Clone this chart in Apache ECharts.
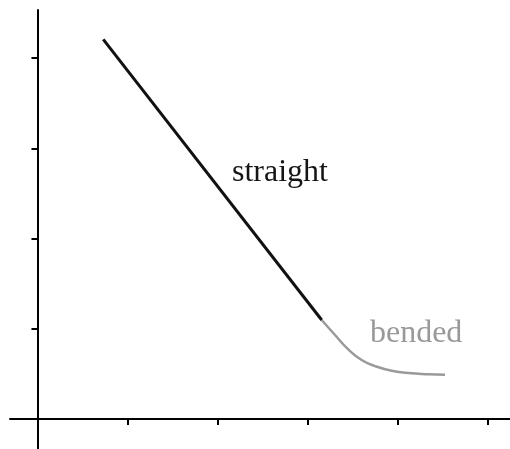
<!DOCTYPE html>
<html>
<head>
    <meta charset="utf-8">
    <script src="https://cdn.jsdelivr.net/npm/echarts@6/dist/echarts.min.js"></script>
    <style>
        body{
            margin:0;
            padding:0;
            background:#fff;
        }
    </style>
</head>
<body>
<div id="main" style="width:510px;height:449px;"></div>
<script type="text/javascript">
// values (unitless axes, ticks at whole numbers)
let xTicks = [1, 2, 3, 4, 5];
let yTicks = [1, 2, 3, 4];
let straightData = [[0.731, 4.207], [3.158, 1.097]];
let bendedData = [
  [3.158, 1.097], [3.306, 0.931], [3.453, 0.772], [3.602, 0.654],
  [3.750, 0.587], [3.936, 0.535], [4.158, 0.507], [4.342, 0.495], [4.528, 0.491]
];
// text labels: [text, x, y (middle of text), colour]
let labels = [
  ['straight', 2.161, 2.73, '#151515'],
  ['bended', 3.694, 0.945, '#999999']
];

var myChart = echarts.init(document.getElementById('main'));

option = {
  animation: false,
  backgroundColor: '#fff',
  grid: {
    left: 10,
    right: 0,
    top: 10,
    bottom: 0
  },
  xAxis: {
    type: 'value',
    min: -0.305,
    max: 5.25,
    splitLine: { show: false },
    axisLabel: { show: false },
    axisLine: {
      onZero: true,
      lineStyle: { color: '#000', width: 2 }
    },
    axisTick: {
      show: true,
      customValues: xTicks,
      length: 6,
      lineStyle: { color: '#000', width: 2 }
    }
  },
  yAxis: {
    type: 'value',
    min: -0.332,
    max: 4.532,
    splitLine: { show: false },
    axisLabel: { show: false },
    axisLine: {
      onZero: true,
      lineStyle: { color: '#000', width: 2 }
    },
    axisTick: {
      show: true,
      customValues: yTicks,
      length: 6,
      lineStyle: { color: '#000', width: 2 }
    }
  },
  series: [
    {
      type: 'line',
      data: straightData,
      showSymbol: false,
      lineStyle: { color: '#111', width: 3 },
      z: 3
    },
    {
      type: 'line',
      data: bendedData,
      smooth: 0.5,
      showSymbol: false,
      lineStyle: { color: '#9a9a9a', width: 2.5 },
      z: 2
    }
  ]
};
myChart.setOption(option);

// put the text labels at their data positions
myChart.setOption({
  graphic: labels.map(function (l) {
    var p = myChart.convertToPixel({ gridIndex: 0 }, [l[1], l[2]]);
    return {
      type: 'text',
      x: p[0],
      y: p[1],
      style: {
        text: l[0],
        fill: l[3],
        font: '32px "Liberation Serif"',
        align: 'left',
        verticalAlign: 'middle'
      }
    };
  })
});
</script>
</body>
</html>
